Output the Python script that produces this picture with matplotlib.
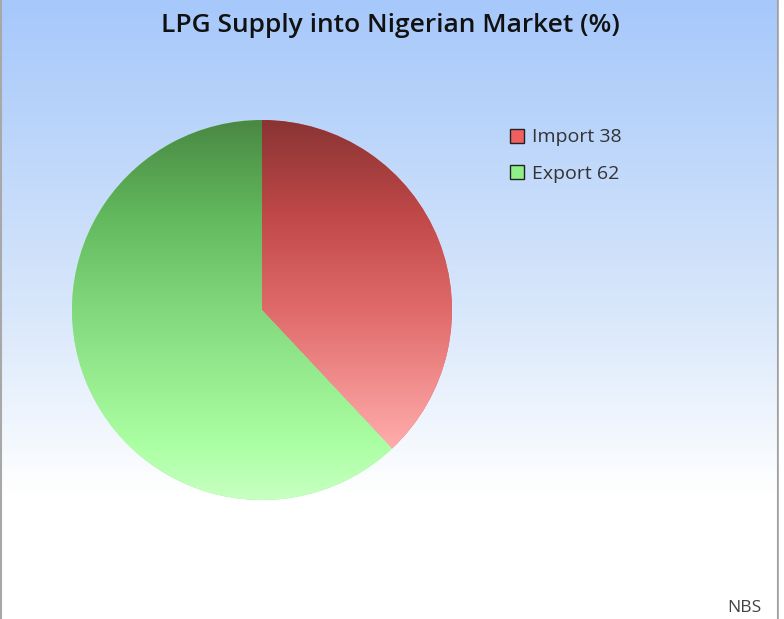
import numpy as np
import matplotlib
matplotlib.use('Agg')
from matplotlib import pyplot as plt
from matplotlib.colors import LinearSegmentedColormap

labels = ['Import', 'Export']
values = [38, 62]
legend_colors = ['#f06060', '#90f088']
title = 'LPG Supply into Nigerian Market (%)'
source = 'NBS'

W, H = 784, 619
fig = plt.figure(figsize=(W / 100, H / 100), dpi=100)
ax = fig.add_axes([0, 0, 1, 1])

# background: light blue at top fading to white
bg = LinearSegmentedColormap.from_list(
    'bg', [(0, '#a6c8fa'), (0.5, '#d8e7fb'), (0.8, '#ffffff'), (1, '#ffffff')])
ax.imshow(np.linspace(0, 1, 256).reshape(-1, 1), cmap=bg, extent=(0, 779, 0, H),
          aspect='auto', zorder=0)
ax.plot([1.5, 1.5], [0, H], color='#a8a8a8', lw=1.5, zorder=1)
ax.plot([778, 778], [0, H], color='#a0a0a0', lw=1.5, zorder=1)
ax.add_patch(plt.Rectangle((779, 0), 10, H, color='white', zorder=1))

cx, cy, r = 262, H - 310, 190
wedges, _ = ax.pie(values, colors=legend_colors, startangle=90, counterclock=False,
                   center=(cx, cy), radius=r, frame=True,
                   wedgeprops=dict(linewidth=0, zorder=2))
ax.set_xlim(0, W)
ax.set_ylim(0, H)
ax.set_aspect('auto')
ax.axis('off')

fills = [[(0, '#8a3434'), (0.25, '#c04848'), (0.5, '#e06a6a'), (0.85, '#ffaaaa'), (1, '#ffc4c4')],
         [(0, '#4a8844'), (0.25, '#62b85c'), (0.5, '#82d87c'), (0.85, '#aaffa2'), (1, '#c8ffc2')]]
for w, cols in zip(wedges, fills):
    cm = LinearSegmentedColormap.from_list('g', cols)
    im = ax.imshow(np.linspace(0, 1, 256).reshape(-1, 1), cmap=cm,
                   extent=(cx - r, cx + r, cy - r, cy + r), aspect='auto',
                   origin='upper', zorder=3)
    im.set_clip_path(w)

ax.text(390, H - 25, title, ha='center', va='center', fontsize=19,
        family='Open Sans', fontweight='semibold', color='#111111')

leg = ax.legend(wedges, [f'{l} {v}' for l, v in zip(labels, values)],
                loc='upper left', bbox_to_anchor=(492 / W, 1 - 111 / H),
                frameon=False, handlelength=0.75, handleheight=0.75,
                handletextpad=0.4, labelspacing=0.95,
                prop=dict(family='Open Sans', size=14))
for t in leg.get_texts():
    t.set_color('#333333')
for h in leg.legend_handles:
    h.set_edgecolor('#222222')
    h.set_linewidth(1)

ax.text(762, H - 608, source, ha='right', va='center', fontsize=12.5,
        family='Open Sans', color='#444444')

fig.savefig('out.png', dpi=100)
